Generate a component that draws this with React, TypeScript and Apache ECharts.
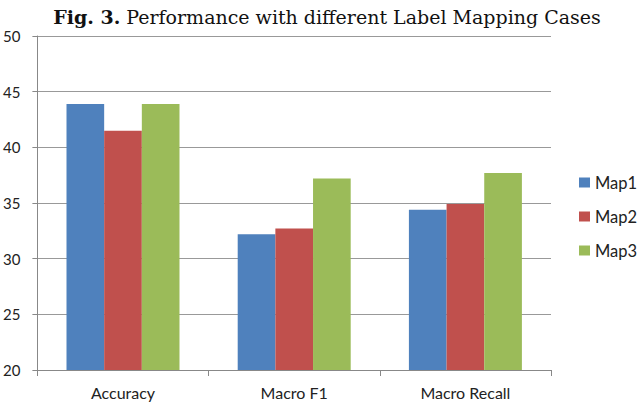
import React, { useEffect, useRef } from "react";
import * as echarts from "echarts";

const categories = ["Accuracy", "Macro F1", "Macro Recall"];
const seriesNames = ["Map1", "Map2", "Map3"];
const map1 = [43.9, 32.2, 34.4];
const map2 = [41.5, 32.7, 34.9];
const map3 = [43.9, 37.2, 37.7];
const colors = ["#4F81BD", "#C0504D", "#9BBB59"];
const yTicks = { min: 20, max: 50, interval: 5 };

export default function App() {
  const ref = useRef<HTMLDivElement>(null);
  useEffect(() => {
    document.body.style.margin = "0";
    const chart = echarts.init(ref.current!, null, { renderer: "svg" });
    const values = [map1, map2, map3];
    chart.setOption({
      animation: false,
      backgroundColor: "#ffffff",
      title: {
        text: "{b|Fig. 3.} Performance with different Label Mapping Cases",
        left: 322,
        textAlign: "center",
        top: 2,
        textStyle: {
          fontFamily: "DejaVu Serif",
          fontSize: 19,
          fontWeight: "normal",
          color: "#111",
          rich: {
            b: { fontFamily: "DejaVu Serif", fontSize: 19, fontWeight: "bold", color: "#111" },
          },
        },
      },
      legend: {
        orient: "vertical",
        left: 579,
        top: 174,
        padding: 0,
        itemWidth: 11,
        itemHeight: 10,
        itemGap: 17,
        icon: "rect",
        textStyle: { fontFamily: "Lato", fontSize: 16.5, color: "#222", padding: [0, 0, 0, 0] },
        data: seriesNames,
      },
      grid: { left: 37, top: 36, right: 89, bottom: 32, containLabel: false },
      xAxis: {
        type: "category",
        data: categories,
        axisLine: { lineStyle: { color: "#888", width: 1 } },
        axisTick: { show: true, length: 6, lineStyle: { color: "#888" } },
        axisLabel: { fontFamily: "Lato", fontSize: 16, color: "#222", margin: 14 },
      },
      yAxis: {
        type: "value",
        min: yTicks.min,
        max: yTicks.max,
        interval: yTicks.interval,
        axisLine: { show: true, lineStyle: { color: "#888", width: 1 } },
        axisTick: { show: true, length: 5, lineStyle: { color: "#888" } },
        axisLabel: { fontFamily: "Lato", fontSize: 15, color: "#222", margin: 17 },
        splitLine: { lineStyle: { color: "#999", width: 1 } },
      },
      series: seriesNames.map((name, i) => ({
        name,
        type: "bar",
        data: values[i],
        barGap: "0%",
        barCategoryGap: "34%",
        itemStyle: { color: colors[i] },
      })),
    });
    return () => chart.dispose();
  }, []);
  return <div ref={ref} style={{ width: 640, height: 402 }} />;
}
